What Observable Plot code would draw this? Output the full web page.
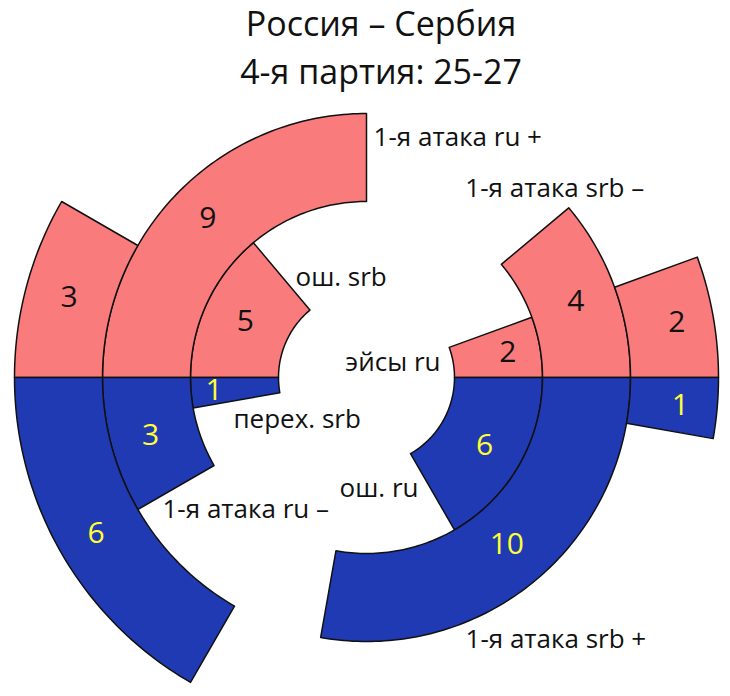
<!DOCTYPE html>
<html>
<head>
<meta charset="utf-8">
<script src="https://cdn.jsdelivr.net/npm/d3@7"></script>
<script src="https://cdn.jsdelivr.net/npm/@observablehq/plot@0.6"></script>
<style>
  html, body { margin: 0; padding: 0; background: #fff; }
  body { width: 730px; height: 696px; overflow: hidden; font-family: "Open Sans", sans-serif; }
  #title { position: relative; height: 95px; }
  #title div { position: absolute; left: 16px; width: 730px; text-align: center; font-size: 34px; line-height: normal; color: #111; white-space: nowrap; }
  #t1 { top: 0px; }
  #t2 { top: 48px; }
  #chart svg { display: block; }
</style>
</head>
<body>
<div id="title"><div id="t1">Россия – Сербия</div><div id="t2">4-я партия: 25-27</div></div>
<div id="chart"></div>
<script>
// ---------------- data ----------------
const teams = ["Россия", "Сербия"];           // top (red) = Russia points, bottom (blue) = Serbia points
const rings = [1, 2, 3];                       // ring index, inner to outer
const leftTopValues     = [5, 9, 3];
const leftBottomValues  = [1, 3, 6];
const rightTopValues    = [2, 4, 2];
const rightBottomValues = [6, 10, 1];
const leftTopLabels     = ["ош. srb", "1-я атака ru +", ""];
const leftBottomLabels  = ["перех. srb", "1-я атака ru –", ""];
const rightTopLabels    = ["эйсы ru", "1-я атака srb –", ""];
const rightBottomLabels = ["ош. ru", "1-я атака srb +", ""];

// ---------------- layout (not data) ----------------
const degPerPoint = 10;
// category label placement: [angle deg, radius in ring units, anchor]
const leftTopLabelAt     = [[125.4, 1.393, "start"], [88.3, 2.728, "start"], null];
const leftBottomLabelAt  = [[197.5, 1.585, "start"], [212.9, 2.761, "start"], null];
const rightTopLabelAt    = [[11.5, 0.858, "end"], [62.4, 2.425, "start"], null];
const rightBottomLabelAt = [[-64.9, 1.393, "end"], [-69.3, 3.183, "start"], null];
// value label radial position (ring units)
const leftTopValueR     = [1.52, 2.55, 3.5];
const leftBottomValueR  = [1.74, 2.54, 3.55];
const rightTopValueR    = [1.63, 2.53, 3.58];
const rightBottomValueR = [1.55, 2.48, 3.58];

const groups = [
  {side: "left",  half: "top",    team: teams[0], values: leftTopValues,     labels: leftTopLabels,     labelAt: leftTopLabelAt,     valueR: leftTopValueR},
  {side: "left",  half: "bottom", team: teams[1], values: leftBottomValues,  labels: leftBottomLabels,  labelAt: leftBottomLabelAt,  valueR: leftBottomValueR},
  {side: "right", half: "top",    team: teams[0], values: rightTopValues,    labels: rightTopLabels,    labelAt: rightTopLabelAt,    valueR: rightTopValueR},
  {side: "right", half: "bottom", team: teams[1], values: rightBottomValues, labels: rightBottomLabels, labelAt: rightBottomLabelAt, valueR: rightBottomValueR}
];

const rad = d => d * Math.PI / 180;
const wedges = [];
groups.forEach((g, gi) => {
  rings.forEach((ring, i) => {
    const v = g.values[i];
    const start = g.side === "left" ? 180 : 0;
    // top half grows toward the top, bottom half grows toward the bottom
    const dir = (g.side === "left") === (g.half === "top") ? -1 : 1;
    const end = start + dir * v * degPerPoint;
    wedges.push({id: `${gi}-${ring}`, team: g.team, half: g.half, ring, value: v, a0: start, a1: end,
      label: g.labels[i], labelAt: g.labelAt[i], valueR: g.valueR[i]});
  });
});

// polygon outline for each annular sector
const points = [];
wedges.forEach(w => {
  const n = Math.max(2, Math.ceil(Math.abs(w.a1 - w.a0)));
  const r0 = w.ring, r1 = w.ring + 1;
  for (let k = 0; k <= n; k++) {
    const a = rad(w.a0 + (w.a1 - w.a0) * k / n);
    points.push({id: w.id, team: w.team, x: r1 * Math.cos(a), y: r1 * Math.sin(a)});
  }
  for (let k = n; k >= 0; k--) {
    const a = rad(w.a0 + (w.a1 - w.a0) * k / n);
    points.push({id: w.id, team: w.team, x: r0 * Math.cos(a), y: r0 * Math.sin(a)});
  }
});

const valueLabels = wedges.map(w => {
  const a = rad((w.a0 + w.a1) / 2);
  return {team: w.team, text: String(w.value), x: w.valueR * Math.cos(a), y: w.valueR * Math.sin(a)};
});
const catLabels = wedges.filter(w => w.label && w.labelAt).map(w => {
  const [ang, r, anchor] = w.labelAt;
  return {text: w.label, anchor, x: r * Math.cos(rad(ang)), y: r * Math.sin(rad(ang))};
});

const W = 730, H = 601, cx = 366, cy = 282, unit = 88;
const chart = Plot.plot({
  width: W, height: H, margin: 0,
  style: {fontFamily: "'Open Sans', sans-serif", background: "white"},
  x: {domain: [-cx / unit, (W - cx) / unit], axis: null},
  y: {domain: [-(H - cy) / unit, cy / unit], axis: null},
  color: {domain: teams, range: ["#f97b7b", "#1f3ab3"]},
  marks: [
    Plot.line(points, {x: "x", y: "y", z: "id", fill: "team", stroke: "#111", strokeWidth: 1.5, curve: "linear-closed"}),
    Plot.text(valueLabels.filter(d => d.team === teams[0]), {x: "x", y: "y", text: "text", fill: "#111", fontSize: 30}),
    Plot.text(valueLabels.filter(d => d.team === teams[1]), {x: "x", y: "y", text: "text", fill: "#ffff33", fontSize: 30}),
    Plot.text(catLabels.filter(d => d.anchor === "start"), {x: "x", y: "y", text: "text", textAnchor: "start", fill: "#111", fontSize: 26}),
    Plot.text(catLabels.filter(d => d.anchor === "end"), {x: "x", y: "y", text: "text", textAnchor: "end", fill: "#111", fontSize: 26})
  ]
});
document.getElementById("chart").appendChild(chart);
</script>
</body>
</html>
